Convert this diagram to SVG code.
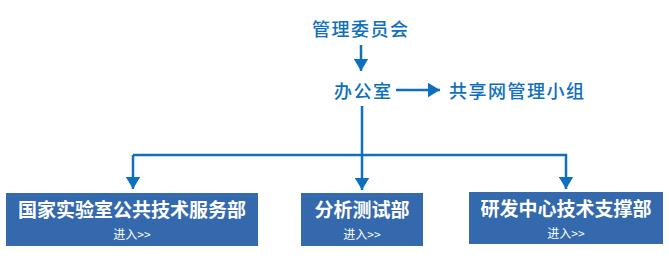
<svg xmlns="http://www.w3.org/2000/svg" width="669" height="262" viewBox="0 0 669 262">
<style>
.t{font-family:"Noto Sans CJK SC","Noto Sans CJK JP",sans-serif;font-size:18px;fill:#0e6fbe;letter-spacing:1.5px;font-weight:500}
.box{fill:#3469ad}
.bt{font-family:"Noto Sans CJK SC","Noto Sans CJK JP",sans-serif;font-size:19px;font-weight:bold;fill:#fff;text-anchor:middle}
.st{font-family:"Noto Sans CJK SC","Noto Sans CJK JP",sans-serif;font-size:12px;fill:#fff;text-anchor:middle}
.ln{stroke:#0e6fbe;stroke-width:2.5;fill:none}
</style>
<defs>
<marker id="ah" markerWidth="6" markerHeight="6" refX="5" refY="3" orient="auto" markerUnits="strokeWidth">
<path d="M0,0 L5,3 L0,6 Z" fill="#0e6fbe"/>
</marker>
</defs>
<g id="connectors">
<line class="ln" x1="361" y1="45" x2="361" y2="71" marker-end="url(#ah)"/>
<line class="ln" x1="396" y1="90" x2="440" y2="90" marker-end="url(#ah)"/>
<polyline class="ln" points="362,106 362,155"/>
<polyline class="ln" points="133,155 566,155 566,189" marker-end="url(#ah)"/>
<line class="ln" x1="133" y1="155" x2="133" y2="189" marker-end="url(#ah)"/>
<line class="ln" x1="362" y1="155" x2="362" y2="190" marker-end="url(#ah)"/>
</g>
<g id="n-committee"><text class="t" x="312" y="36">管理委员会</text></g>
<g id="n-office"><text class="t" x="334" y="98">办公室</text></g>
<g id="n-group"><text class="t" x="449" y="98">共享网管理小组</text></g>
<g id="n-dept1">
<rect class="box" x="6" y="193" width="252" height="53"/>
<text class="bt" x="132" y="217">国家实验室公共技术服务部</text>
<text class="st" x="132" y="239">进入&gt;&gt;</text>
</g>
<g id="n-dept2">
<rect class="box" x="301" y="193" width="122" height="53"/>
<text class="bt" x="362" y="217">分析测试部</text>
<text class="st" x="362" y="239">进入&gt;&gt;</text>
</g>
<g id="n-dept3">
<rect class="box" x="469" y="192" width="194" height="52"/>
<text class="bt" x="566" y="216">研发中心技术支撑部</text>
<text class="st" x="566" y="238">进入&gt;&gt;</text>
</g>
</svg>
